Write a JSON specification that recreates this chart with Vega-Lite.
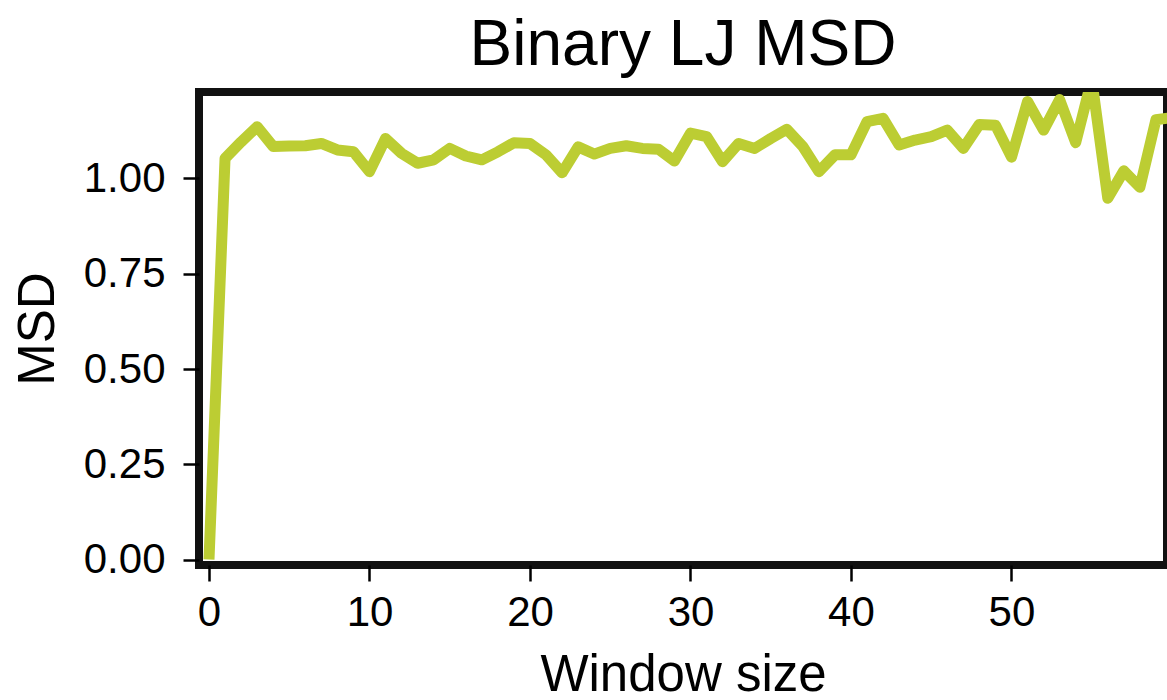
{
  "$schema": "https://vega.github.io/schema/vega-lite/v6.json",
  "autosize": {"type": "none"},
  "padding": {"left": 199, "top": 92, "right": 0, "bottom": 135},
  "width": 968,
  "height": 473,
  "background": "white",
  "config": {
    "font": "Liberation Sans",
    "view": {"stroke": "#111111", "strokeWidth": 8},
    "axis": {
      "domain": false,
      "grid": false,
      "tickColor": "#000000",
      "tickWidth": 2.5,
      "tickSize": 16,
      "labelFont": "Liberation Sans",
      "labelFontSize": 42,
      "labelColor": "#000000",
      "titleFont": "Liberation Sans",
      "titleFontSize": 51,
      "titleFontWeight": "normal",
      "titleColor": "#000000"
    }
  },
  "title": {
    "text": "Binary LJ MSD",
    "font": "Liberation Sans",
    "fontSize": 64,
    "fontWeight": "normal",
    "color": "#000000",
    "anchor": "middle",
    "frame": "group",
    "baseline": "alphabetic",
    "offset": 23,
    "dy": 60
  },
  "data": {
    "values": [
      {"window": 0, "msd": 0.0},
      {"window": 1, "msd": 1.053},
      {"window": 2, "msd": 1.096},
      {"window": 3, "msd": 1.136},
      {"window": 4, "msd": 1.084},
      {"window": 5, "msd": 1.085},
      {"window": 6, "msd": 1.086},
      {"window": 7, "msd": 1.092},
      {"window": 8, "msd": 1.075},
      {"window": 9, "msd": 1.07},
      {"window": 10, "msd": 1.018},
      {"window": 11, "msd": 1.105},
      {"window": 12, "msd": 1.066},
      {"window": 13, "msd": 1.04},
      {"window": 14, "msd": 1.049},
      {"window": 15, "msd": 1.079},
      {"window": 16, "msd": 1.059},
      {"window": 17, "msd": 1.049},
      {"window": 18, "msd": 1.07},
      {"window": 19, "msd": 1.094},
      {"window": 20, "msd": 1.092},
      {"window": 21, "msd": 1.062},
      {"window": 22, "msd": 1.015},
      {"window": 23, "msd": 1.083},
      {"window": 24, "msd": 1.064},
      {"window": 25, "msd": 1.079},
      {"window": 26, "msd": 1.086},
      {"window": 27, "msd": 1.079},
      {"window": 28, "msd": 1.077},
      {"window": 29, "msd": 1.046},
      {"window": 30, "msd": 1.119},
      {"window": 31, "msd": 1.11},
      {"window": 32, "msd": 1.044},
      {"window": 33, "msd": 1.092},
      {"window": 34, "msd": 1.079},
      {"window": 35, "msd": 1.105},
      {"window": 36, "msd": 1.129},
      {"window": 37, "msd": 1.084},
      {"window": 38, "msd": 1.018},
      {"window": 39, "msd": 1.062},
      {"window": 40, "msd": 1.062},
      {"window": 41, "msd": 1.149},
      {"window": 42, "msd": 1.158},
      {"window": 43, "msd": 1.088},
      {"window": 44, "msd": 1.101},
      {"window": 45, "msd": 1.11},
      {"window": 46, "msd": 1.127},
      {"window": 47, "msd": 1.079},
      {"window": 48, "msd": 1.142},
      {"window": 49, "msd": 1.14},
      {"window": 50, "msd": 1.056},
      {"window": 51, "msd": 1.202},
      {"window": 52, "msd": 1.127},
      {"window": 53, "msd": 1.207},
      {"window": 54, "msd": 1.094},
      {"window": 55, "msd": 1.26},
      {"window": 56, "msd": 0.948},
      {"window": 57, "msd": 1.02},
      {"window": 58, "msd": 0.977},
      {"window": 59, "msd": 1.154},
      {"window": 60, "msd": 1.16}
    ]
  },
  "mark": {
    "type": "line",
    "color": "#bccd33",
    "strokeWidth": 11,
    "strokeJoin": "round",
    "strokeCap": "butt",
    "clip": true
  },
  "encoding": {
    "x": {
      "field": "window",
      "type": "quantitative",
      "title": "Window size",
      "scale": {"domain": [-0.623, 59.69], "nice": false, "zero": false},
      "axis": {
        "values": [0, 10, 20, 30, 40, 50],
        "format": "d",
        "labelPadding": 11,
        "titlePadding": 17,
        "labelFlush": false
      }
    },
    "y": {
      "field": "msd",
      "type": "quantitative",
      "title": "MSD",
      "scale": {"domain": [-0.0144, 1.227], "nice": false, "zero": false},
      "axis": {
        "values": [0, 0.25, 0.5, 0.75, 1.0],
        "format": ".2f",
        "labelPadding": 18,
        "titlePadding": 19,
        "labelFlush": false
      }
    }
  }
}
